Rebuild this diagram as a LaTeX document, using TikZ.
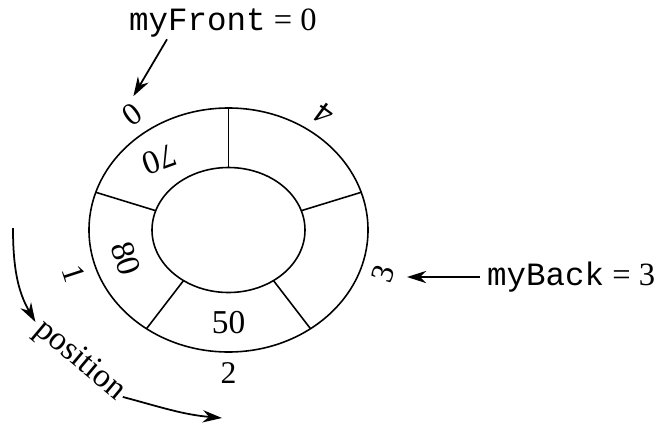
\documentclass[tikz,border=0pt]{standalone}
\usepackage{fontspec}
\setmainfont{Liberation Serif}
\newfontfamily\monofont{Liberation Mono}
\usepackage{tikz}
\usetikzlibrary{arrows.meta}

\begin{document}
\begin{tikzpicture}[
    cell/.style={font=\fontsize{19}{19}\selectfont, inner sep=1pt},
    idx/.style={font=\fontsize{18}{18}\selectfont, inner sep=1pt},
    ptr/.style={font=\fontsize{18.5}{18.5}\selectfont, inner sep=1pt},
    ring/.style={line width=0.9pt},
    arr/.style={-{Stealth[length=11pt,width=7pt]}, line width=1pt}
]
    \useasboundingbox (-4.57,-3.94) rectangle (8.75,4.60);

    % Ring of cells
    \draw[ring] (0,0) ellipse (2.79cm and 2.44cm);
    \draw[ring] (0,0) ellipse (1.53cm and 1.25cm);
    \foreach \a in {18,90,162,234,306}
        \draw[ring] (\a:1.53cm and 1.25cm) -- (\a:2.79cm and 2.44cm);

    % Positions
    \foreach \i in {0,...,4} {
        \pgfmathsetmacro{\ang}{126+72*\i}
        \node[idx, rotate=\ang+90] (idx\i) at (\ang:3.26cm and 2.86cm) {\i};
    }

    % Values
    \node[cell, rotate=200] (c0) at (130:2.16cm and 1.845cm) {70};
    \node[cell, rotate=288] (c1) at (198:2.16cm and 1.845cm) {80};
    \node[cell] (c2) at (270:2.16cm and 1.845cm) {50};

    % Front and back
    \node[ptr, anchor=west] (front) at (-2.03,4.14) {{\monofont myFront} = 0};
    \node[ptr, anchor=west] (back) at (5.13,-0.94) {{\monofont myBack} = 3};
    \draw[arr, shorten >=0.42cm] ([xshift=0.8cm]front.south west) -- ([xshift=-0.2cm]idx0.center);
    \draw[arr, shorten <=0.1cm, shorten >=0.47cm] (back.west) -- (back.west -| idx3.center);

    % Direction of positions
    \node[font=\fontsize{19}{19}\selectfont, rotate=-40, inner sep=1pt] (pos) at (-2.97,-2.62) {position};
    \coordinate (sweep) at (-4.31,0.04);
    \coordinate (sweepend) at (-0.13,-3.76);
    \draw[arr, shorten >=2pt] (sweep) to[out=-90, in=120] (pos.west);
    \draw[arr] (pos.east) to[out=-15, in=175] (sweepend);
\end{tikzpicture}
\end{document}
